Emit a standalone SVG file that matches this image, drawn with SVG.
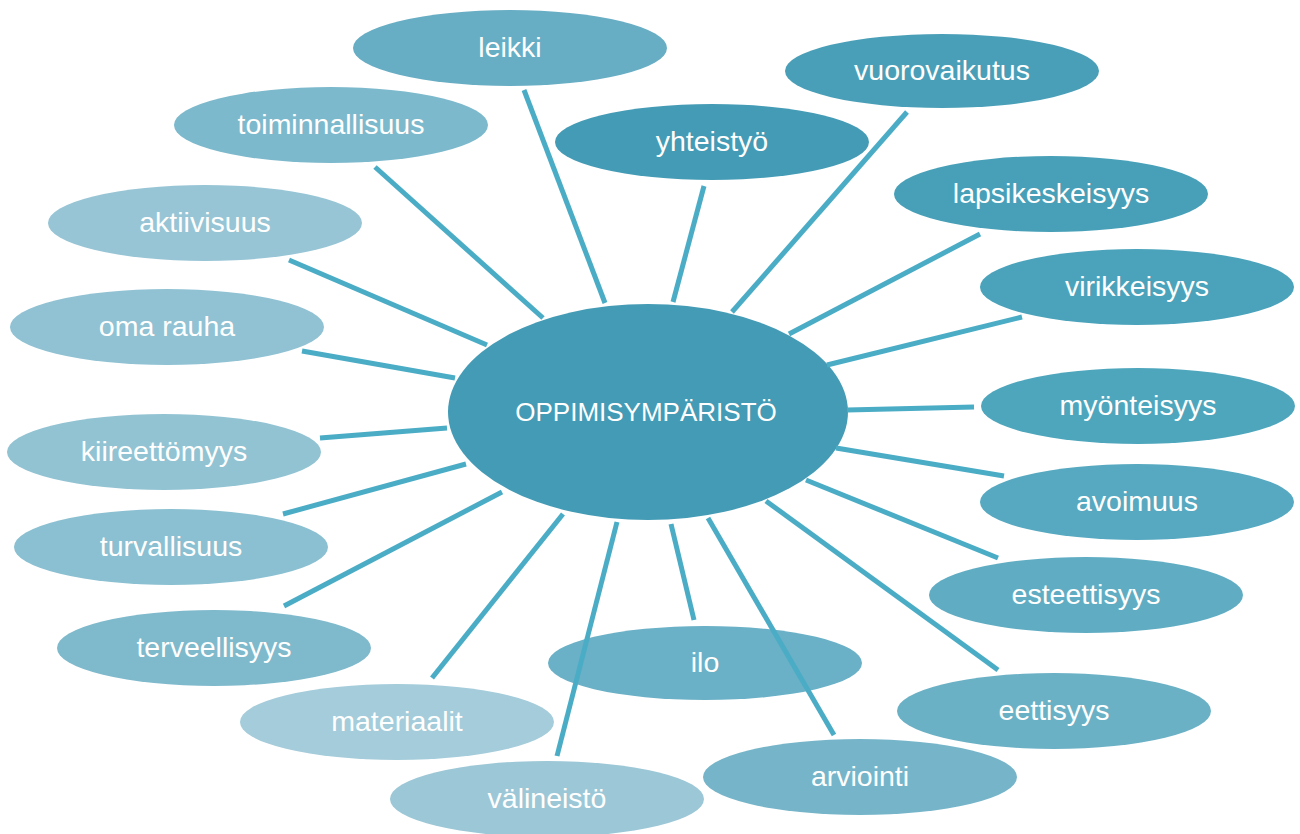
<svg xmlns="http://www.w3.org/2000/svg" width="1300" height="834" viewBox="0 0 1300 834">
<style>
.n text{font-family:"Liberation Sans",Arial,sans-serif;font-size:28.5px;fill:#ffffff;text-anchor:middle}
#n-center text{font-size:26px}
.c line{stroke:#4BACC6;stroke-width:5;stroke-linecap:butt}
</style>
<rect width="1300" height="834" fill="#ffffff"/>
<g id="n-leikki" class="n"><ellipse cx="510" cy="48" rx="157" ry="38" fill="#67ADC4"/><text x="510" y="57">leikki</text></g>
<g id="n-vuorovaikutus" class="n"><ellipse cx="942" cy="71" rx="157" ry="37" fill="#4A9FB8"/><text x="942" y="80">vuorovaikutus</text></g>
<g id="n-toiminnallisuus" class="n"><ellipse cx="331" cy="125" rx="157" ry="38" fill="#7DB9CC"/><text x="331" y="134">toiminnallisuus</text></g>
<g id="n-yhteistyo" class="n"><ellipse cx="712" cy="142" rx="157" ry="38" fill="#449BB5"/><text x="712" y="151">yhteistyö</text></g>
<g id="n-lapsikeskeisyys" class="n"><ellipse cx="1051" cy="194" rx="157" ry="38" fill="#47A0B8"/><text x="1051" y="203">lapsikeskeisyys</text></g>
<g id="n-aktiivisuus" class="n"><ellipse cx="205" cy="223" rx="157" ry="38" fill="#97C5D5"/><text x="205" y="232">aktiivisuus</text></g>
<g id="n-virikkeisyys" class="n"><ellipse cx="1137" cy="287" rx="157" ry="38" fill="#4AA3BB"/><text x="1137" y="296">virikkeisyys</text></g>
<g id="n-omarauha" class="n"><ellipse cx="167" cy="327" rx="157" ry="38" fill="#90C2D3"/><text x="167" y="336">oma rauha</text></g>
<g id="n-myonteisyys" class="n"><ellipse cx="1138" cy="406" rx="157" ry="38" fill="#4EA6BD"/><text x="1138" y="415">myönteisyys</text></g>
<g id="n-kiireettomyys" class="n"><ellipse cx="164" cy="452" rx="157" ry="38" fill="#92C3D3"/><text x="164" y="461">kiireettömyys</text></g>
<g id="n-avoimuus" class="n"><ellipse cx="1137" cy="502" rx="157" ry="38" fill="#56A9C0"/><text x="1137" y="511">avoimuus</text></g>
<g id="n-turvallisuus" class="n"><ellipse cx="171" cy="547" rx="157" ry="38" fill="#8AC0D1"/><text x="171" y="556">turvallisuus</text></g>
<g id="n-esteettisyys" class="n"><ellipse cx="1086" cy="595" rx="157" ry="38" fill="#60ADC3"/><text x="1086" y="604">esteettisyys</text></g>
<g id="n-terveellisyys" class="n"><ellipse cx="214" cy="648" rx="157" ry="38" fill="#7EB9CC"/><text x="214" y="657">terveellisyys</text></g>
<g id="n-ilo" class="n"><ellipse cx="705" cy="663" rx="157" ry="37" fill="#6AB0C6"/><text x="705" y="672">ilo</text></g>
<g id="n-materiaalit" class="n"><ellipse cx="397" cy="722" rx="157" ry="38" fill="#A4CCDA"/><text x="397" y="731">materiaalit</text></g>
<g id="n-eettisyys" class="n"><ellipse cx="1054" cy="711" rx="157" ry="38" fill="#6BB1C6"/><text x="1054" y="720">eettisyys</text></g>
<g id="n-arviointi" class="n"><ellipse cx="860" cy="777" rx="157" ry="38" fill="#76B5C9"/><text x="860" y="786">arviointi</text></g>
<g id="n-valineisto" class="n"><ellipse cx="547" cy="799" rx="157" ry="38" fill="#9CC7D6"/><text x="547" y="808">välineistö</text></g>
<g id="n-center" class="n"><ellipse cx="648" cy="412" rx="200" ry="108" fill="#449BB5"/><text x="646" y="421">OPPIMISYMPÄRISTÖ</text></g>
<g id="connectors" class="c">
<line x1="524" y1="90" x2="605" y2="303"/>
<line x1="375" y1="167" x2="543" y2="318"/>
<line x1="289" y1="260" x2="487" y2="345"/>
<line x1="302" y1="351" x2="455" y2="378"/>
<line x1="320" y1="438" x2="447" y2="428"/>
<line x1="283" y1="514" x2="466" y2="464"/>
<line x1="284" y1="606" x2="502" y2="492"/>
<line x1="432" y1="678" x2="563" y2="514"/>
<line x1="557" y1="756" x2="617" y2="522"/>
<line x1="694" y1="620" x2="671" y2="524"/>
<line x1="834" y1="735" x2="708" y2="518"/>
<line x1="998" y1="670" x2="766" y2="501"/>
<line x1="998" y1="558" x2="806" y2="480"/>
<line x1="1004" y1="476" x2="836" y2="448"/>
<line x1="974" y1="407" x2="847" y2="410"/>
<line x1="1022" y1="317" x2="827" y2="365"/>
<line x1="980" y1="234" x2="789" y2="334"/>
<line x1="907" y1="112" x2="732" y2="312"/>
<line x1="704" y1="186" x2="673" y2="302"/>
</g>
</svg>
